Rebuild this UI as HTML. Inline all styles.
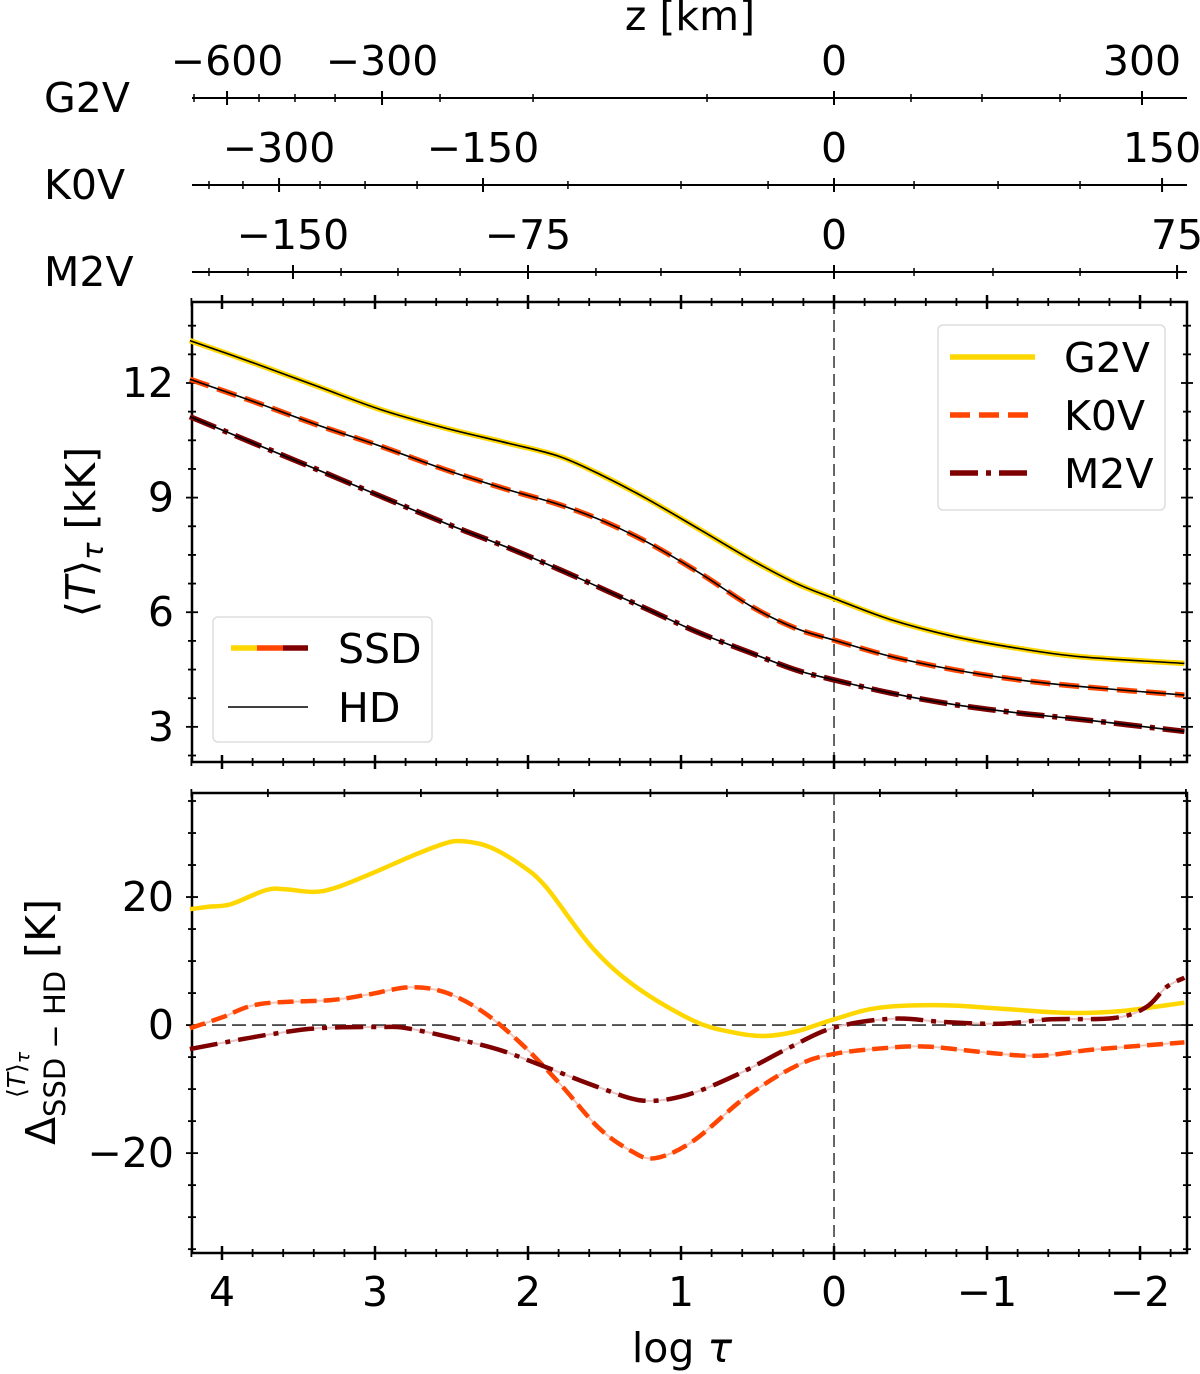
<!DOCTYPE html>
<html><head><meta charset="utf-8">
<style>
html,body{margin:0;padding:0;background:#fff;}
svg{display:block;font-family:"DejaVu Sans","Liberation Sans",sans-serif;}
</style></head>
<body>
<svg id="chart" width="1200" height="1374" viewBox="0 0 1200 1374" xmlns="http://www.w3.org/2000/svg">
<g id="root"></g>
</svg>
<script>
// ---- data ----
const tauG2V = [4.21,3.79,3.375,2.96,2.54,2.125,1.79,1.5,1.21,0.875,0.54,0.25,0,-0.375,-0.79,-1.21,-1.625,-2.29];
const tempG2V = [13.11,12.52,11.91,11.30,10.82,10.42,10.07,9.55,8.94,8.16,7.37,6.76,6.36,5.80,5.36,5.05,4.83,4.66];
const tempK0V = [12.10,11.51,10.90,10.34,9.73,9.20,8.81,8.37,7.81,7.02,6.15,5.58,5.27,4.84,4.49,4.23,4.05,3.83];
const tempM2V = [11.12,10.42,9.73,9.03,8.33,7.68,7.11,6.59,6.06,5.45,4.93,4.49,4.23,3.88,3.58,3.36,3.19,2.88];

const dTauG2V = [4.21,4.08,3.94,3.71,3.58,3.40,3.25,3.0,2.75,2.54,2.42,2.25,2.04,1.88,1.58,1.29,0.92,0.67,0.46,0.25,0,-0.29,-0.71,-1.13,-1.54,-1.88,-2.29];
const deltaG2V = [18.1,18.5,18.9,21.1,21.2,20.8,21.5,23.9,26.5,28.4,28.7,27.8,24.9,21.5,12.1,5.9,0.7,-1.1,-1.7,-1.0,0.9,2.7,3.1,2.5,1.9,2.2,3.5];
const dTauK0V = [4.21,4.0,3.75,3.29,3.04,2.77,2.54,2.29,2.04,1.79,1.54,1.33,1.17,0.92,0.58,0.25,0,-0.38,-0.63,-1.0,-1.33,-1.71,-2.29];
const deltaK0V = [-0.5,1.2,3.3,3.9,4.8,5.9,5.1,2.0,-3.0,-9.2,-16.0,-19.6,-20.8,-18.1,-11.3,-6.4,-4.5,-3.5,-3.4,-4.3,-4.8,-3.8,-2.7];
const dTauM2V = [4.21,3.87,3.67,3.38,2.96,2.79,2.46,2.17,1.88,1.54,1.25,0.96,0.63,0.29,0,-0.38,-0.71,-1.08,-1.42,-1.83,-2.04,-2.17,-2.29];
const deltaM2V = [-3.75,-2.2,-1.4,-0.5,-0.3,-0.5,-2.2,-4.0,-6.6,-9.7,-11.8,-10.9,-7.7,-3.5,-0.4,1.0,0.5,0.2,0.9,1.1,2.8,5.9,7.4];

const xTicks = [4,3,2,1,0,-1,-2];
const xTickLabels = ["4","3","2","1","0","\u22121","\u22122"];
const topYTicks = [3,6,9,12];
const botYTicks = [-20,0,20];
const botYTickLabels = ["\u221220","0","20"];

// secondary z axes: tick positions in log tau
const zG2VMajorTau = [3.967,2.954,0,-2.013];
const zG2VMajorLabels = ["\u2212600","\u2212300","0","300"];
const zG2VMinorTau = [4.183,3.758,3.523,3.261,2.575,1.967,0.830,-0.503,-0.967,-1.477];
const zK0VMajorTau = [3.627,2.294,0,-2.144];
const zK0VMajorLabels = ["\u2212300","\u2212150","0","150"];
const zK0VMinorTau = [4.085,3.863,3.359,3.065,2.725,1.739,1.0,0.431,-0.523,-1.072,-1.608];
const zM2VMajorTau = [3.536,2.0,0,-2.242];
const zM2VMajorLabels = ["\u2212150","\u221275","0","75"];
const zM2VMinorTau = [4.085,3.830,3.222,2.850,2.444,1.556,1.131,0.614,-0.523,-1.039,-1.608];

// ---- layout ----
const X0=192, X1=1187;
const TAU0=4.196, TAU1=-2.307;
const xs = t => X0 + (TAU0 - t)/(TAU0-TAU1)*(X1-X0);
const TY0=302, TY1=762, TV0=14.12, TV1=2.08;
const yTop = v => TY0 + (TV0 - v)/(TV0-TV1)*(TY1-TY0);
const BY0=793, BY1=1253, BV0=36.25, BV1=-35.6;
const yBot = v => BY0 + (BV0 - v)/(BV0-BV1)*(BY1-BY0);

const NS="http://www.w3.org/2000/svg";
const root=document.getElementById('root');
function mk(tag, attrs, parent){const e=document.createElementNS(NS,tag);for(const k in attrs)e.setAttribute(k,attrs[k]);(parent||root).appendChild(e);return e;}
function txt(s, attrs, parent){const e=mk('text',attrs,parent);e.textContent=s;return e;}
function pathD(xa, ya, fx, fy){
  const P=xa.map((t,i)=>[fx(t),fy(ya[i])]);
  let d='M'+P[0][0].toFixed(1)+','+P[0][1].toFixed(1);
  for(let i=0;i<P.length-1;i++){
    const p0=P[Math.max(0,i-1)],p1=P[i],p2=P[i+1],p3=P[Math.min(P.length-1,i+2)];
    const c1x=p1[0]+(p2[0]-p0[0])/6,c1y=p1[1]+(p2[1]-p0[1])/6;
    const c2x=p2[0]-(p3[0]-p1[0])/6,c2y=p2[1]-(p3[1]-p1[1])/6;
    d+=` C${c1x.toFixed(1)},${c1y.toFixed(1)} ${c2x.toFixed(1)},${c2y.toFixed(1)} ${p2[0].toFixed(1)},${p2[1].toFixed(1)}`;
  }
  return d;
}
const FS=41;

// ---- secondary axes ----
const zAxes=[
 {name:'g2v',y:98,maj:zG2VMajorTau,lab:zG2VMajorLabels,min:zG2VMinorTau},
 {name:'k0v',y:185,maj:zK0VMajorTau,lab:zK0VMajorLabels,min:zK0VMinorTau},
 {name:'m2v',y:272,maj:zM2VMajorTau,lab:zM2VMajorLabels,min:zM2VMinorTau}];
zAxes.forEach(a=>{
  const g=mk('g',{});
  
  
  mk('line',{x1:X0,x2:X1,y1:a.y,y2:a.y,stroke:'#000','stroke-width':2},g);
  a.maj.forEach((t,i)=>{
    mk('line',{x1:xs(t),x2:xs(t),y1:a.y-7,y2:a.y+7,stroke:'#000','stroke-width':2},g);
    const l=txt(a.lab[i],{x:xs(t),y:a.y-23,'text-anchor':'middle','font-size':FS},g);
    
    
  });
  a.min.forEach(t=>mk('line',{x1:xs(t),x2:xs(t),y1:a.y-4,y2:a.y+4,stroke:'#000','stroke-width':1.5},g));
  const rl=txt(a.name.toUpperCase(),{x:44,y:a.y+14,'font-size':FS},g);
  
  
});
const zt=txt('z [km]',{x:690,y:30,'text-anchor':'middle','font-size':FS});



// ---- panel frames & ticks ----
function frame(y0,y1,name){
  const r=mk('rect',{x:X0,y:y0,width:X1-X0,height:y1-y0,fill:'none',stroke:'#000','stroke-width':2.5});
  
  
}
function xTicksAt(y,step){
  for(let t=4.2;t>=-2.3;t-=step){
    const tt=Math.round(t*10)/10;
    const major=Math.abs(tt-Math.round(tt))<1e-6;
    const h=major?7:4;
    mk('line',{x1:xs(tt),x2:xs(tt),y1:y-h,y2:y+h,stroke:'#000','stroke-width':major?2.5:1.8});
  }
}
function yTicksAt(fy,lo,hi,step,majStep){
  for(let v=lo;v<=hi+1e-6;v+=step){
    const major=Math.abs(v/majStep-Math.round(v/majStep))<1e-6;
    const h=major?6:4;
    [X0,X1].forEach(x=>mk('line',{x1:x-h,x2:x+h,y1:fy(v),y2:fy(v),stroke:'#000','stroke-width':1.8}));
  }
}
frame(TY0,TY1,'top-panel-frame');
frame(BY0,BY1,'bottom-panel-frame');
xTicksAt(TY0,0.2); xTicksAt(TY1,0.2); xTicksAt(BY0,0.5); xTicksAt(BY1,0.2);
yTicksAt(yTop,2.25,14.0,0.75,3);
yTicksAt(yBot,-35,35,5,20);

topYTicks.forEach(v=>{
  const l=txt(String(v),{x:174,y:yTop(v)+14,'text-anchor':'end','font-size':FS});
  
  
});
botYTicks.forEach((v,i)=>{
  const l=txt(botYTickLabels[i],{x:174,y:yBot(v)+14,'text-anchor':'end','font-size':FS});
  
  
});
xTicks.forEach((t,i)=>{
  const l=txt(xTickLabels[i],{x:xs(t),y:1306,'text-anchor':'middle','font-size':FS});
  
  
});

// reference lines
mk('line',{x1:xs(0),x2:xs(0),y1:TY0,y2:TY1,stroke:'#000','stroke-width':1.2,'stroke-dasharray':'12 6'});
mk('line',{x1:xs(0),x2:xs(0),y1:BY0,y2:BY1,stroke:'#000','stroke-width':1.2,'stroke-dasharray':'12 6'});
mk('line',{x1:X0,x2:X1,y1:yBot(0),y2:yBot(0),stroke:'#333','stroke-width':1.6,'stroke-dasharray':'14 6'});

// ---- top panel series ----
const YEL='#FFD700', ORA='#FF4500', DRK='#7F0000';
const DASH='20 9', DADOT='28 8 5 8';
function series(name,xa,ya,fx,fy,color,dash,w){
  const a={d:pathD(xa,ya,fx,fy),fill:'none',stroke:color,'stroke-width':w,'stroke-linejoin':'round'};
  if(dash)a['stroke-dasharray']=dash;
  const p=mk('path',a);
  
  
  return p;
}
series('ssd-g2v-line',tauG2V,tempG2V,xs,yTop,YEL,null,5.5);
series('ssd-k0v-line',tauG2V,tempK0V,xs,yTop,ORA,DASH,5.5);
series('ssd-m2v-line',tauG2V,tempM2V,xs,yTop,DRK,DADOT,5.5);
series('hd-g2v-line',tauG2V,tempG2V,xs,yTop,'#000',null,1.6);
series('hd-k0v-line',tauG2V,tempK0V,xs,yTop,'#000',null,1.6);
series('hd-m2v-line',tauG2V,tempM2V,xs,yTop,'#000',null,1.6);

// ---- bottom panel series ----
series('delta-k0v-underlay',dTauK0V,deltaK0V,xs,yBot,'#f5c6b8',null,2);
series('delta-m2v-underlay',dTauM2V,deltaM2V,xs,yBot,'#e8c4c4',null,2);
series('delta-g2v-line',dTauG2V,deltaG2V,xs,yBot,YEL,null,4.5);
series('delta-k0v-line',dTauK0V,deltaK0V,xs,yBot,ORA,'16 7',4.5);
series('delta-m2v-line',dTauM2V,deltaM2V,xs,yBot,DRK,DADOT,4.5);

// ---- legends ----
const lg1=mk('g',{});


mk('rect',{x:938,y:325,width:227,height:185,rx:5,fill:'#fff','fill-opacity':0.85,stroke:'#ddd','stroke-width':1.5},lg1);
[['G2V',YEL,null,357],['K0V',ORA,DASH,415],['M2V',DRK,DADOT,473]].forEach(e=>{
  const a={x1:950,x2:1035,y1:e[3],y2:e[3],stroke:e[1],'stroke-width':5.5};
  if(e[2])a['stroke-dasharray']=e[2];
  mk('line',a,lg1);
  const t=txt(e[0],{x:1064,y:e[3]+15,'font-size':FS},lg1);
  
  
});
const lg2=mk('g',{});


mk('rect',{x:213,y:617,width:219,height:125,rx:5,fill:'#fff','fill-opacity':0.85,stroke:'#ddd','stroke-width':1.5},lg2);
mk('line',{x1:231,x2:257,y1:648,y2:648,stroke:YEL,'stroke-width':5.5},lg2);
mk('line',{x1:257,x2:283,y1:648,y2:648,stroke:ORA,'stroke-width':5.5},lg2);
mk('line',{x1:283,x2:308,y1:648,y2:648,stroke:DRK,'stroke-width':5.5},lg2);
mk('line',{x1:228,x2:308,y1:707,y2:707,stroke:'#000','stroke-width':1.6},lg2);
const s1=txt('SSD',{x:338,y:663,'font-size':FS},lg2);


const s2=txt('HD',{x:338,y:722,'font-size':FS},lg2);



// ---- axis titles ----
const yt1=mk('text',{transform:'translate(95,532) rotate(-90)','text-anchor':'middle','font-size':FS});
yt1.innerHTML='⟨<tspan font-style="italic">T</tspan>⟩<tspan font-style="italic" font-size="29" dy="8">τ</tspan><tspan dy="-8"> [kK]</tspan>';


const yt2=mk('text',{transform:'translate(55,1022) rotate(-90)','text-anchor':'middle','font-size':FS});
yt2.innerHTML='Δ<tspan font-size="29" dy="10">SSD − HD</tspan><tspan dy="-10"> [K]</tspan>';


const sup=mk('text',{transform:'translate(25,1098) rotate(-90)','text-anchor':'start','font-size':25});
sup.innerHTML='⟨<tspan font-style="italic">T</tspan>⟩<tspan font-style="italic" font-size="19" dy="4">τ</tspan>';


const xt=mk('text',{x:682,y:1362,'text-anchor':'middle','font-size':FS});
xt.innerHTML='log <tspan font-style="italic">τ</tspan>';


</script>
</body></html>
